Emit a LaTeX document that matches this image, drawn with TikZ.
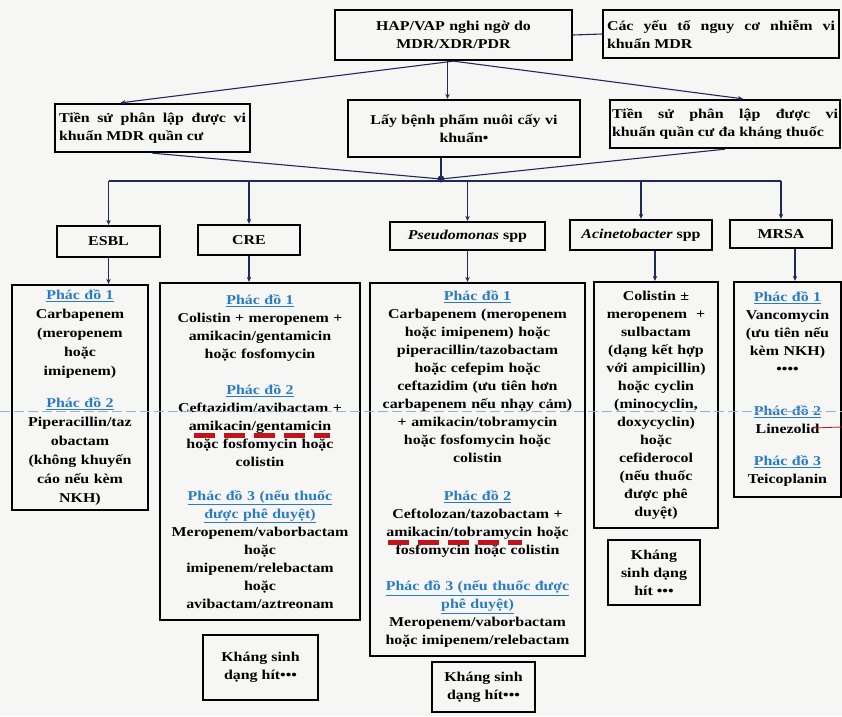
\documentclass[tikz,border=0pt]{standalone}
\usepackage{fontspec}
\setmainfont{Liberation Serif}[FakeStretch=1.18]
\usetikzlibrary{arrows.meta,calc}
\definecolor{navy}{HTML}{1F2A5A}
\definecolor{phac}{HTML}{2B7BC4}
\definecolor{bg}{HTML}{F6F6F4}
\definecolor{ruled}{HTML}{8FB3D9}
\definecolor{redmark}{HTML}{C0141C}
\newcommand{\pd}[1]{\textcolor{phac}{\underline{#1}}}
\begin{document}
\begin{tikzpicture}[x=1pt,y=-1pt,
  bx/.style={draw=black,line width=2.3pt,inner sep=3pt,align=center,
    font=\fontsize{13.5}{18}\selectfont\bfseries},
  jbx/.style={bx,align=justify},
  conn/.style={draw=navy,line width=1.1pt},
  arr/.style={conn,-{Stealth[length=5pt,width=4.5pt]}}]
\fill[bg] (0,0) rectangle (842,716);
\useasboundingbox (0,0) rectangle (842,716);

% row 1
\node[bx,minimum width=237pt,minimum height=50pt,text width=229pt] (top) at (453.5,35)
  {HAP/VAP nghi ngờ do\\MDR/XDR/PDR};
\node[jbx,minimum width=236pt,minimum height=48pt,text width=228pt] (risk) at (721,34)
  {Các yếu tố nguy cơ nhiễm vi\linebreak khuẩn MDR};
% row 2
\node[jbx,minimum width=195pt,minimum height=48pt,text width=187pt] (L) at (152.5,128)
  {Tiền sử phân lập được vi\linebreak khuẩn MDR quần cư};
\node[bx,minimum width=232pt,minimum height=57pt,text width=224pt] (M) at (464,128.5)
  {Lấy bệnh phẩm nuôi cấy vi\\khuẩn•};
\node[jbx,minimum width=230pt,minimum height=48pt,text width=226pt,inner sep=2pt] (R) at (725,124)
  {Tiền sử phân lập được vi\linebreak khuẩn quần cư đa kháng thuốc};
% row 3
\node[bx,minimum width=103pt,minimum height=31pt] (esbl) at (108.5,241.5) {ESBL};
\node[bx,minimum width=102pt,minimum height=30pt] (cre) at (249,240) {CRE};
\node[bx,minimum width=155pt,minimum height=28pt] (pse) at (467.5,236) {\textit{Pseudomonas} spp};
\node[bx,minimum width=142pt,minimum height=30pt] (aci) at (641,235) {\textit{Acinetobacter} spp};
\node[bx,minimum width=102pt,minimum height=28pt] (mrsa) at (781,234) {MRSA};
% row 4
\node[bx,minimum width=136pt,minimum height=225pt,text width=130pt,
  font=\fontsize{13.5}{19}\selectfont\bfseries] (e2) at (80,397.5)
  {\pd{Phác đồ 1}\\Carbapenem\\(meropenem\\hoặc\\imipenem)\\[13pt]
   \pd{Phác đồ 2}\\Piperacillin/taz\\obactam\\(không khuyến\\cáo nếu kèm\\NKH)};
\node[bx,minimum width=200pt,minimum height=337pt,text width=194pt] (c2) at (260,451.5)
  {\pd{Phác đồ 1}\\Colistin + meropenem +\\amikacin/gentamicin\\hoặc fosfomycin\\[18pt]
   \pd{Phác đồ 2}\\Ceftazidim/avibactam +\\amikacin/gentamicin\\hoặc fosfomycin hoặc\\colistin\\[16pt]
   \pd{Phác đồ 3 (nếu thuốc}\\\pd{được phê duyệt)}\\Meropenem/vaborbactam\\hoặc\\imipenem/relebactam\\hoặc\\avibactam/aztreonam};
\node[bx,minimum width=215pt,minimum height=373pt,text width=209pt] (p2) at (477.5,469.5)
  {\pd{Phác đồ 1}\\Carbapenem (meropenem\\hoặc imipenem) hoặc\\piperacillin/tazobactam\\hoặc cefepim hoặc\\ceftazidim (ưu tiên hơn\\carbapenem nếu nhạy cảm)\\+ amikacin/tobramycin\\hoặc fosfomycin hoặc\\colistin\\[20pt]
   \pd{Phác đồ 2}\\Ceftolozan/tazobactam +\\amikacin/tobramycin hoặc\\fosfomycin hoặc colistin\\[18pt]
   \pd{Phác đồ 3 (nếu thuốc được}\\\pd{phê duyệt)}\\Meropenem/vaborbactam\\hoặc imipenem/relebactam};
\node[bx,minimum width=124pt,minimum height=246pt,text width=118pt] (a2) at (656,405)
  {Colistin ±\\meropenem \ +\\sulbactam\\(dạng kết hợp\\với ampicillin)\\hoặc cyclin\\(minocyclin,\\doxycyclin)\\hoặc\\cefiderocol\\(nếu thuốc\\được phê\\duyệt)};
\node[bx,minimum width=105pt,minimum height=215pt,text width=101pt] (m2) at (787.5,389.5)
  {\pd{Phác đồ 1}\\Vancomycin\\(ưu tiên nếu\\kèm NKH)\\••••\\[24pt]
   \pd{Phác đồ 2}\\Linezolid\\[14pt]\pd{Phác đồ 3}\\Teicoplanin};
% inhaled
\node[bx,minimum width=115pt,minimum height=65pt] (ci) at (260.5,667.5) {Kháng sinh\\dạng hít•••};
\node[bx,minimum width=103pt,minimum height=50pt] (pi) at (483.5,687) {Kháng sinh\\dạng hít•••};
\node[bx,minimum width=92pt,minimum height=65pt] (ai) at (654,572.5) {Kháng\\sinh dạng\\hít •••};

% connectors
\draw[conn] (top.east) -- (risk.west);
\draw[arr] (top.south) -- ([xshift=-32pt]L.north);
\draw[arr] ([xshift=-6pt]top.south) -- ([xshift=-6pt]top.south |- M.north);
\draw[arr] (top.south) -- ([xshift=18pt]R.north);
\coordinate (J) at (441,179);
\coordinate (busL) at (108.5,181);
\coordinate (busR) at (781,181);
\draw[conn] (L.south) -- (J);
\draw[conn] (M.south -| J) -- (J);
\draw[conn] (R.south) -- (J);
\fill[navy] (J) circle (3.5pt);
\draw[conn] (busL) -- (busR);
\foreach \n in {esbl,cre,pse,aci,mrsa} {
  \draw[arr] (busL -| \n.north) -- (\n.north);
}
\draw[arr] (esbl.south) -- (esbl.south |- e2.north);
\draw[arr] (cre.south) -- (cre.south |- c2.north);
\draw[arr] (pse.south) -- (pse.south |- p2.north);
\draw[arr] ([xshift=14pt]aci.south) -- ([xshift=14pt]aci.south |- a2.north);
\draw[arr] ([xshift=14pt]mrsa.south) -- ([xshift=14pt]mrsa.south |- m2.north);

% marks on the page
\draw[ruled,line width=0.6pt,dash pattern=on 10pt off 4pt] (0,411) -- (842,411);
\draw[redmark,line width=5pt,dash pattern=on 21pt off 9pt] (194,435) -- (330,435);
\draw[redmark,line width=5pt,dash pattern=on 21pt off 9pt] (388,542) -- (522,542);
\draw[redmark,line width=0.8pt] (812,428) -- (842,427);
\end{tikzpicture}
\end{document}
